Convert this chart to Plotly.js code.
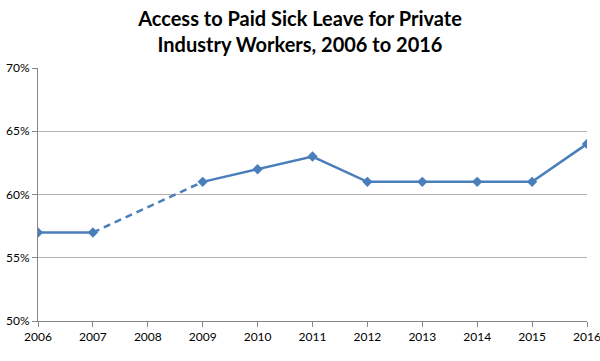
<!DOCTYPE html>
<html><head><meta charset="utf-8">
<script src="https://cdn.plot.ly/plotly-3.0.1.min.js"></script>
<style>body{margin:0;background:#fff}#c{width:600px;height:361px}</style>
</head><body><div id="c"></div>
<script>
const years = [2006, 2007, 2008, 2009, 2010, 2011, 2012, 2013, 2014, 2015, 2016];
const access = [0.57, 0.57, null, 0.61, 0.62, 0.63, 0.61, 0.61, 0.61, 0.61, 0.64];
const gapYears = [2007, 2009];
const gapValues = [0.57, 0.61];
const yTicks = [0.50, 0.55, 0.60, 0.65, 0.70];
const yTickLabels = ['50%', '55%', '60%', '65%', '70%'];

const blue = '#4A7EBB';
const traces = [
  {x: gapYears, y: gapValues, type: 'scatter', mode: 'lines',
   line: {color: blue, width: 2.5, dash: '7px,5px'}, hoverinfo: 'skip'},
  {x: years, y: access, type: 'scatter', mode: 'lines+markers', connectgaps: false,
   line: {color: blue, width: 2.5},
   marker: {symbol: 'diamond', size: 8, color: blue}}
];
const layout = {
  width: 600, height: 361,
  margin: {l: 38, r: 13, t: 68, b: 40},
  showlegend: false,
  paper_bgcolor: '#fff', plot_bgcolor: '#fff',
  font: {family: 'Lato, "Open Sans", sans-serif', color: '#000', size: 12},
  title: {text: 'Access to Paid Sick Leave for Private<br>Industry Workers, 2006 to 2016',
    font: {family: 'Lato, "Open Sans", sans-serif', size: 20, color: '#000', weight: 'bold'},
    x: 0.5, xanchor: 'center', y: 0.929, yanchor: 'top'},
  xaxis: {range: [2006, 2016], tickvals: years, ticktext: years.map(String),
    showgrid: false, zeroline: false, showline: true, linecolor: '#868686', linewidth: 1,
    ticks: 'outside', ticklen: 5, tickcolor: '#868686', tickfont: {size: 12},
    ticklabeloverflow: 'allow', automargin: false},
  yaxis: {range: [0.50, 0.70], tickvals: yTicks, ticktext: yTickLabels,
    showgrid: true, gridcolor: '#b0b0b0', gridwidth: 1, zeroline: false,
    showline: true, linecolor: '#868686', linewidth: 1,
    ticks: 'outside', ticklen: 5, tickcolor: '#868686', tickfont: {size: 12},
    ticklabeloverflow: 'allow', automargin: false}
};
Plotly.newPlot('c', traces, layout, {staticPlot: true, displayModeBar: false});
</script></body></html>
